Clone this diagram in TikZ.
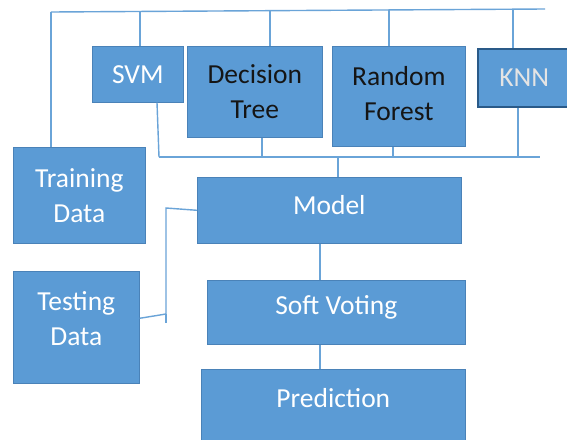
\documentclass[tikz,border=0pt]{standalone}
\usepackage{fontspec}
\setmainfont{Carlito}
\definecolor{boxfill}{HTML}{5B9BD5}
\definecolor{boxedge}{HTML}{4A82B8}
\definecolor{knnedge}{HTML}{2A5A88}
\definecolor{wirecol}{HTML}{6AA4D8}
\definecolor{darktext}{HTML}{151515}
\definecolor{greytext}{HTML}{E4E4E4}
\begin{document}
\begin{tikzpicture}[x=1pt,y=-1pt,
  stage/.style={draw=boxedge, fill=boxfill, line width=0.6pt, inner sep=0pt, anchor=north west},
  wire/.style={draw=wirecol, line width=1.4pt},
  lbl/.style={font=\fontsize{27.5}{35}\selectfont, align=center, text=white},
  dlbl/.style={lbl, text=darktext}]
\fill[white] (0,0) rectangle (567,439);
\useasboundingbox (0,0) rectangle (567,439);

% classifiers
\node[stage, minimum width=91, minimum height=56,
  label={[lbl]center:SVM}] (svm) at (92,46) {};
\node[stage, minimum width=135, minimum height=91,
  label={[dlbl]center:{Decision\\Tree}}] (dt) at (187,46) {};
\node[stage, minimum width=133, minimum height=100,
  label={[dlbl, yshift=3pt]center:{Random\\Forest}}] (rf) at (332,46) {};
\node[stage, draw=knnedge, line width=1.5pt, minimum width=93, minimum height=58,
  label={[lbl, text=greytext]center:KNN}] (knn) at (477,48) {};

% data
\node[stage, minimum width=132, minimum height=96,
  label={[lbl]center:{Training\\Data}}] (train) at (13,147) {};
\node[stage, minimum width=126, minimum height=112,
  label={[lbl, yshift=9pt]center:{Testing\\Data}}] (test) at (13,271) {};

% pipeline
\node[stage, minimum width=264, minimum height=66,
  label={[lbl, yshift=5pt]center:Model}] (model) at (197,177) {};
\node[stage, minimum width=258, minimum height=64,
  label={[lbl, yshift=5pt]center:Soft Voting}] (soft) at (207,280) {};
\node[stage, minimum width=264, minimum height=72,
  label={[lbl, yshift=7pt]center:Prediction}] (pred) at (201,369) {};

% upper bus
\coordinate (tl) at (51,12);
\coordinate (tr) at (545,9);
\coordinate (t1) at (140,12);
\coordinate (t2) at (270,11);
\coordinate (t3) at (389,10);
\coordinate (t4) at (513,9);
\draw[wire] (tl) -- (tr);
\draw[wire] (tl) -- (tl |- train.north);
\draw[wire] (t1) -- (t1 |- svm.north);
\draw[wire] (t2) -- (t2 |- dt.north);
\draw[wire] (t3) -- (t3 |- rf.north);
\draw[wire] (t4) -- (t4 |- knn.north);

% lower bus
\coordinate (bl) at (159,157);
\coordinate (br) at (540,157);
\coordinate (b2) at (262,157);
\coordinate (b3) at (393,157);
\coordinate (b4) at (518,157);
\coordinate (bm) at (338,157);
\draw[wire] (bl) -- (br);
\draw[wire] (bl) -- ([xshift=-2pt]bl |- svm.south);
\draw[wire] (b2) -- (b2 |- dt.south);
\draw[wire] (b3) -- (b3 |- rf.south);
\draw[wire] (b4) -- (b4 |- knn.south);
\draw[wire] (bm) -- (bm |- model.north);

% testing data into the model
\coordinate (j1) at (166,314);
\coordinate (j2) at (166,208);
\coordinate (j3) at (166,323);
\draw[wire] ([yshift=9pt]test.east) -- (j1) -- (j2) -- (model.west);
\draw[wire] (j1) -- (j3);

% model to voting to prediction
\coordinate (c1) at (320,0);
\draw[wire] (c1 |- model.south) -- (c1 |- soft.north);
\draw[wire] (c1 |- soft.south) -- (c1 |- pred.north);
\end{tikzpicture}
\end{document}
